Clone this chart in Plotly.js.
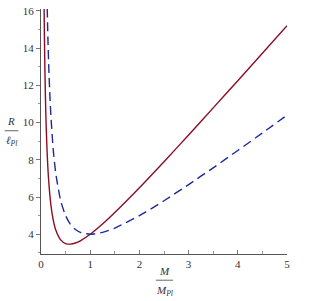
<!DOCTYPE html>
<html>
<head>
<meta charset="utf-8">
<script src="https://cdn.plot.ly/plotly-3.0.1.min.js"></script>
<style>html,body{margin:0;padding:0;background:#fff;}#chart{width:309px;height:301px;}</style>
</head>
<body>
<div id="chart"></div>
<script>
// Solid red curve (M/M_Pl, R/l_Pl)
const redM = [0.06, 0.07, 0.08, 0.09, 0.1, 0.12, 0.15, 0.2, 0.25, 0.3, 0.4, 0.5, 0.6, 0.7, 0.8, 1, 1.25, 1.5, 2, 2.5, 3, 3.5, 4, 4.5, 5];
const redR = [16.85, 14.5, 12.74, 11.38, 10.3, 8.69, 7.12, 5.6, 4.75, 4.23, 3.7, 3.5, 3.47, 3.53, 3.65, 4.0, 4.55, 5.17, 6.5, 7.9, 9.33, 10.79, 12.25, 13.72, 15.2];
// Dashed blue curve
const blueM = [0.12, 0.14, 0.16, 0.18, 0.2, 0.25, 0.3, 0.4, 0.5, 0.6, 0.7, 0.8, 1, 1.25, 1.5, 2, 2.5, 3, 3.5, 4, 4.5, 5];
const blueR = [16.9, 14.57, 12.82, 11.47, 10.4, 8.5, 7.27, 5.8, 5.0, 4.53, 4.26, 4.1, 4.0, 4.1, 4.33, 5.0, 5.8, 6.67, 7.57, 8.5, 9.44, 10.4];
const xTicks = [0, 1, 2, 3, 4, 5];
const yTicks = [4, 6, 8, 10, 12, 14, 16];

const serif = "Liberation Serif";
const data = [
  {x: redM, y: redR, mode: "lines", line: {color: "#8c0d22", width: 1.4, shape: "spline", smoothing: 0.6}, hoverinfo: "skip"},
  {x: blueM, y: blueR, mode: "lines", line: {color: "#1c2a9c", width: 1.4, dash: "9px,5px", shape: "spline", smoothing: 0.6}, hoverinfo: "skip"}
];
const tf = {family: serif, size: 11, color: "#333"};
const layout = {
  width: 309, height: 301,
  margin: {l: 41, r: 21.5, t: 9, b: 47, pad: 0},
  paper_bgcolor: "#fff", plot_bgcolor: "#fff",
  showlegend: false,
  font: tf,
  xaxis: {
    range: [0, 5], showgrid: false, zeroline: false,
    showline: true, linecolor: "#555", linewidth: 1,
    tickvals: xTicks, ticktext: xTicks.map(String),
    ticks: "inside", ticklen: 4, tickcolor: "#777",
    minor: {dtick: 0.5, ticks: "inside", ticklen: 3, tickcolor: "#999"},
    tickfont: tf
  },
  yaxis: {
    range: [2.94, 16.1], showgrid: false, zeroline: false,
    showline: true, linecolor: "#555", linewidth: 1,
    tickvals: yTicks, ticktext: yTicks.map(String),
    ticks: "outside", ticklen: 4, tickcolor: "#777",
    minor: {dtick: 1, ticks: "outside", ticklen: 2, tickcolor: "#999"},
    tickfont: tf
  },
  annotations: [
    {xref: "paper", yref: "paper", x: -0.12, y: 0.51, xanchor: "center", yanchor: "bottom", showarrow: false,
     text: "<i>R</i>", font: tf},
    {xref: "paper", yref: "paper", x: -0.12, y: 0.497, xanchor: "center", yanchor: "top", showarrow: false,
     text: "<i>ℓ<sub>Pl</sub></i>", font: tf},
    {xref: "paper", yref: "paper", x: 0.502, y: -0.101, xanchor: "center", yanchor: "bottom", showarrow: false,
     text: "<i>M</i>", font: tf},
    {xref: "paper", yref: "paper", x: 0.502, y: -0.113, xanchor: "center", yanchor: "top", showarrow: false,
     text: "<i>M<sub>Pl</sub></i>", font: tf}
  ],
  shapes: [
    {type: "line", xref: "paper", yref: "paper", x0: -0.148, x1: -0.092, y0: 0.503, y1: 0.503, line: {color: "#666", width: 1}},
    {type: "line", xref: "paper", yref: "paper", x0: 0.467, x1: 0.537, y0: -0.107, y1: -0.107, line: {color: "#666", width: 1}}
  ]
};
Plotly.newPlot("chart", data, layout, {displayModeBar: false, staticPlot: true});
</script>
</body>
</html>
